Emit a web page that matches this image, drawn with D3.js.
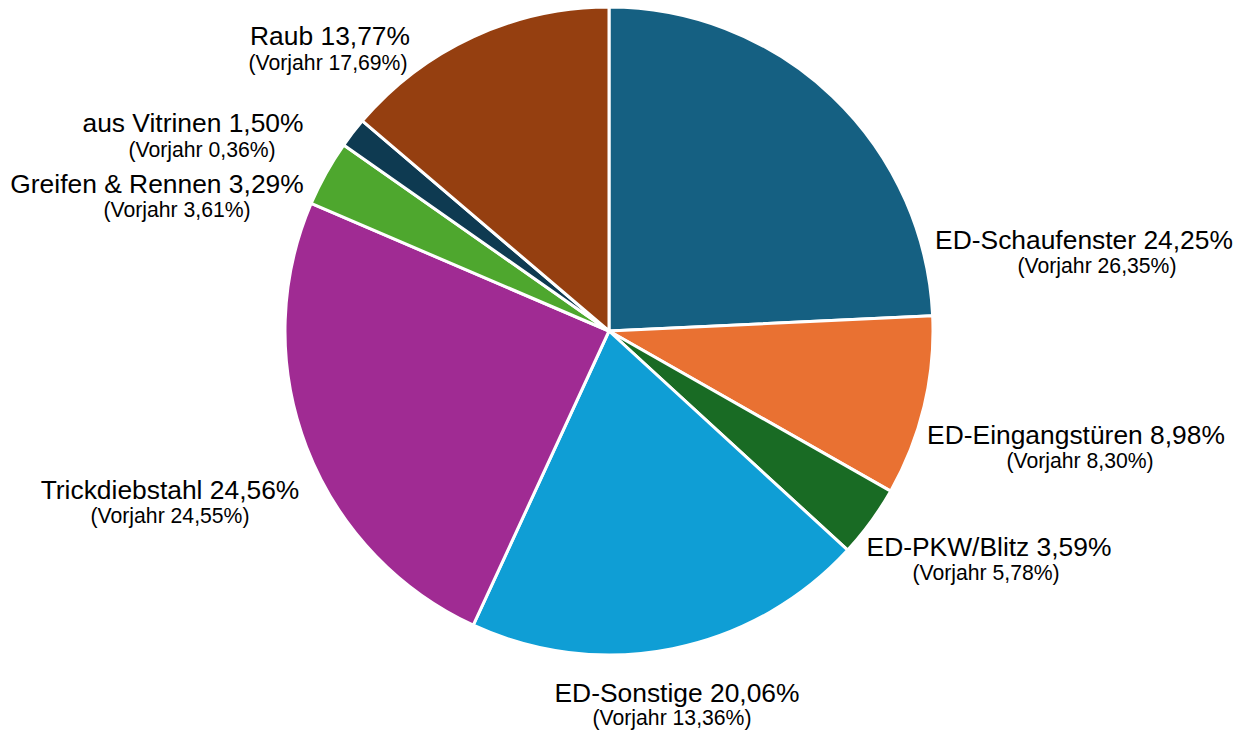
<!DOCTYPE html>
<html>
<head>
<meta charset="utf-8">
<script src="https://cdn.jsdelivr.net/npm/d3@7"></script>
<style>
  html, body { margin: 0; padding: 0; background: #fff; }
  svg { display: block; }
  text { font-family: "Liberation Sans", Arial, sans-serif; fill: #000; }
</style>
</head>
<body>
<svg id="chart" width="1247" height="736"></svg>
<script>
// ---- data ----
const categories = ["ED-Schaufenster", "ED-Eingangstüren", "ED-PKW/Blitz", "ED-Sonstige",
                    "Trickdiebstahl", "Greifen & Rennen", "aus Vitrinen", "Raub"];
const values = [24.25, 8.98, 3.59, 20.06, 24.56, 3.29, 1.50, 13.77];
const previousYear = [26.35, 8.30, 5.78, 13.36, 24.55, 3.61, 0.36, 17.69];

// ---- styles / layout ----
const colors = ["#156082", "#E97132", "#196B24", "#0F9ED5", "#A02B93", "#4EA72E", "#0E3A51", "#953F10"];
// label line centres [x1, y1, x2, y2]
const labelPos = [
  [1084, 249, 1097, 273],
  [1076, 444, 1080, 468],
  [989, 556, 986, 580],
  [677, 702, 672, 725],
  [170, 499, 170, 523],
  [157, 193, 177, 217],
  [193, 132, 202, 157],
  [330, 45, 328, 70]
];

const fmt = v => v.toFixed(2).replace(".", ",") + "%";

const svg = d3.select("#chart");
const cx = 609, cy = 331, r = 324;

const pie = d3.pie().sort(null).value(d => d.value);
const arc = d3.arc().innerRadius(0).outerRadius(r);

const data = categories.map((c, i) => ({ name: c, value: values[i], prev: previousYear[i], i }));

const g = svg.append("g").attr("transform", `translate(${cx},${cy})`);
g.selectAll("path")
  .data(pie(data))
  .join("path")
  .attr("d", arc)
  .attr("fill", d => colors[d.data.i])
  .attr("stroke", "#fff")
  .attr("stroke-width", 3)
  .attr("stroke-linejoin", "round");

const labels = svg.append("g");
data.forEach((d, i) => {
  const p = labelPos[i];
  labels.append("text")
    .attr("x", p[0]).attr("y", p[1])
    .attr("text-anchor", "middle")
    .attr("font-size", 26.4)
    .text(`${d.name} ${fmt(d.value)}`);
  labels.append("text")
    .attr("x", p[2]).attr("y", p[3])
    .attr("text-anchor", "middle")
    .attr("font-size", 21.2)
    .text(`(Vorjahr ${fmt(d.prev)})`);
});
</script>
</body>
</html>
